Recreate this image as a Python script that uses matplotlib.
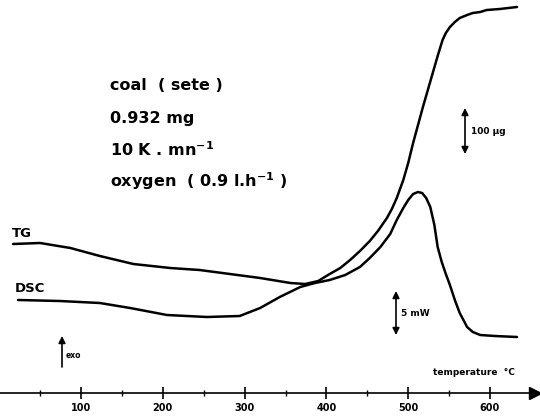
import matplotlib.pyplot as plt
import numpy as np

plt.rcParams['font.family'] = ['DejaVu Sans']

# TG trace: temperature (C) vs height (arbitrary units)
tg_temp = [17, 50, 87, 123, 164, 209, 245, 282, 319, 356, 374, 390, 404, 417,
           429, 441, 453, 463, 474, 480, 486, 494, 500, 506, 512, 518, 524,
           530, 536, 542, 546, 551, 557, 563, 572, 579, 588, 596, 612, 633]
tg_sig = [175, 176, 171, 163, 155, 151, 149, 145, 141, 136, 135, 138, 145, 151,
          159, 168, 178, 188, 201, 210, 221, 239, 256, 276, 294, 312, 329,
          346, 363, 379, 386, 392, 397, 401, 404, 406, 407, 409, 410, 412]

# DSC trace
dsc_temp = [23, 74, 123, 160, 205, 254, 294, 319, 343, 368, 386, 404, 423, 441,
            453, 466, 478, 486, 494, 500, 506, 512, 517, 522, 527, 532, 536,
            541, 546, 551, 557, 563, 572, 579, 588, 606, 633]
dsc_sig = [119, 118, 116, 111, 104, 102, 103, 111, 122, 132, 136, 139, 144, 152,
           161, 172, 185, 199, 211, 219, 225, 227, 226, 221, 212, 194, 172,
           157, 145, 134, 119, 106, 92, 87, 84, 83, 82]

major_ticks = [100, 200, 300, 400, 500, 600]
minor_ticks = [50, 150, 250, 350, 450, 550]


def at(px, py):
    # pixel position in the 540x419 picture -> data coordinates
    return ((px + 0.8) / 0.818, 419 - py)


fig = plt.figure(figsize=(5.4, 4.19), dpi=100)
ax = fig.add_axes([0, 0, 1, 1])
ax.set_xlim(at(0, 0)[0], at(540, 0)[0])
ax.set_ylim(0, 419)

ax.plot(tg_temp, tg_sig, color='black', lw=1.8, solid_capstyle='round', solid_joinstyle='round')
ax.plot(dsc_temp, dsc_sig, color='black', lw=1.8, solid_capstyle='round', solid_joinstyle='round')

# temperature axis
for s in ['top', 'right', 'left']:
    ax.spines[s].set_visible(False)
ax.spines['bottom'].set_position(('data', 419 - 393))
ax.spines['bottom'].set_linewidth(1.2)
ax.set_yticks([])
ax.set_xticks(major_ticks)
ax.set_xticks(minor_ticks, minor=True)
ax.tick_params(axis='x', which='major', direction='inout', length=8, width=1.2, pad=3,
               labelsize=7)
ax.tick_params(axis='x', which='minor', direction='inout', length=5, width=1.0)
for lab in ax.get_xticklabels():
    lab.set_fontweight('bold')
ax.plot(*at(535, 393), marker='>', color='black', markersize=8, clip_on=False)

ax.text(*at(433, 372), 'temperature  °C', fontsize=6.5, fontweight='bold', va='center')

# sample description
tx = 110
ax.text(*at(tx, 86), 'coal  ( sete )', fontsize=11.5, fontweight='bold', va='center')
ax.text(*at(tx, 118), '0.932 mg', fontsize=11.5, fontweight='bold', va='center')
ax.text(*at(tx, 150), '10 K . mn$^{\\mathbf{-1}}$', fontsize=11.5, fontweight='bold', va='center')
ax.text(*at(tx, 181), 'oxygen  ( 0.9 l.h$^{\\mathbf{-1}}$ )', fontsize=11.5, fontweight='bold',
        va='center')

ax.text(*at(12, 233), 'TG', fontsize=9.5, fontweight='bold', va='center')
ax.text(*at(15, 289), 'DSC', fontsize=9.5, fontweight='bold', va='center')

# scale bars
arrow = dict(arrowstyle='<|-|>', color='black', lw=1.2, mutation_scale=10, shrinkA=0, shrinkB=0)
ax.annotate('', xy=at(465, 108), xytext=at(465, 154), arrowprops=arrow)
ax.text(*at(471, 132), '100 µg', fontsize=6.5, fontweight='bold', va='center')
ax.annotate('', xy=at(396, 291), xytext=at(396, 335), arrowprops=arrow)
ax.text(*at(401, 313), '5 mW', fontsize=6.5, fontweight='bold', va='center')

ax.annotate('', xy=at(62, 336), xytext=at(62, 367),
            arrowprops=dict(arrowstyle='-|>', color='black', lw=1.2, mutation_scale=10,
                            shrinkA=0, shrinkB=0))
ax.text(*at(66, 355), 'exo', fontsize=5.5, fontweight='bold', va='center')

fig.savefig('out.png', dpi=100)
